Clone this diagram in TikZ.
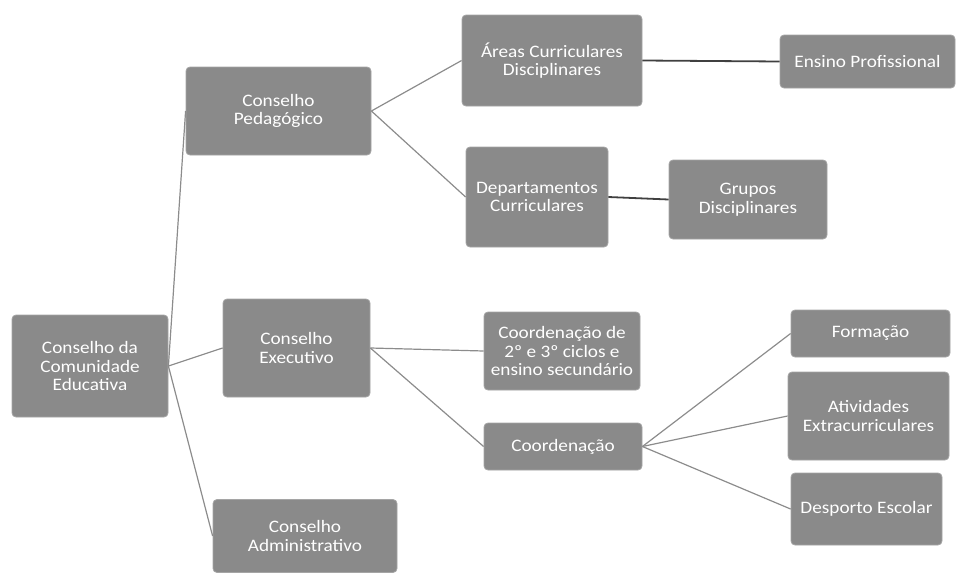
\documentclass[tikz,border=0pt]{standalone}
\usepackage{fontspec}
\setmainfont{Carlito}[FakeStretch=1.1]
\usepackage{tikz}
\definecolor{boxgray}{RGB}{138,138,138}
\definecolor{boxedge}{RGB}{165,165,165}
\definecolor{linegray}{RGB}{140,140,140}
\tikzset{
  orgbox/.style = {fill=boxgray, draw=boxedge, line width=0.8pt, rounded corners=4pt,
    text=white, align=center, inner sep=2pt,
    font=\fontsize{17.5}{18.5}\selectfont},
  link/.style = {linegray, line width=1.2pt},
  darklink/.style = {black!75, line width=1.8pt}
}

\begin{document}
\begin{tikzpicture}[x=1pt,y=-1pt]
\useasboundingbox (0,0) rectangle (962,573);

\node[orgbox, minimum width=156pt, minimum height=102pt] (cce) at (90,366) {Conselho da\\Comunidade\\Educativa};
\node[orgbox, minimum width=185pt, minimum height=88pt] (ped) at (278.5,111) {Conselho\\Pedagógico};
\node[orgbox, minimum width=147pt, minimum height=98pt] (exe) at (296.5,348) {Conselho\\Executivo};
\node[orgbox, minimum width=184pt, minimum height=73pt] (adm) at (305,536) {Conselho\\Administrativo};

\node[orgbox, minimum width=180pt, minimum height=91pt] (areas) at (552,60.5) {Áreas Curriculares\\Disciplinares};
\node[orgbox, minimum width=175pt, minimum height=53pt] (ensino) at (867.5,61.5) {Ensino Profissional};
\node[orgbox, minimum width=142pt, minimum height=100pt] (dep) at (537,197) {Departamentos\\Curriculares};
\node[orgbox, minimum width=158pt, minimum height=79pt] (grupos) at (748,199.5) {Grupos\\Disciplinares};

\node[orgbox, minimum width=156pt, minimum height=78pt] (ciclos) at (562,351) {Coordenação de\\2º e 3º ciclos e\\ensino secundário};
\node[orgbox, minimum width=158pt, minimum height=47pt] (coord) at (563,446.5) {Coordenação};
\node[orgbox, minimum width=159pt, minimum height=47pt] (form) at (870.5,333.5) {Formação};
\node[orgbox, minimum width=161pt, minimum height=88pt] (ativ) at (868.5,416) {Atividades\\Extracurriculares};
\node[orgbox, minimum width=151pt, minimum height=72pt] (desp) at (866.5,509) {Desporto Escolar};

% ligacoes
\draw[link] (cce.east) -- (ped.west);
\draw[link] (cce.east) -- (exe.west);
\draw[link] (cce.east) -- (adm.west);

\draw[link] (ped.east) -- (areas.west);
\draw[link] (ped.east) -- (dep.west);
\draw[darklink] (areas.east) -- (ensino.west);
\draw[darklink] (dep.east) -- (grupos.west);

\draw[link] (exe.east) -- (ciclos.west);
\draw[link] (exe.east) -- (coord.west);
\draw[link] (coord.east) -- (form.west);
\draw[link] (coord.east) -- (ativ.west);
\draw[link] (coord.east) -- (desp.west);
\end{tikzpicture}
\end{document}
